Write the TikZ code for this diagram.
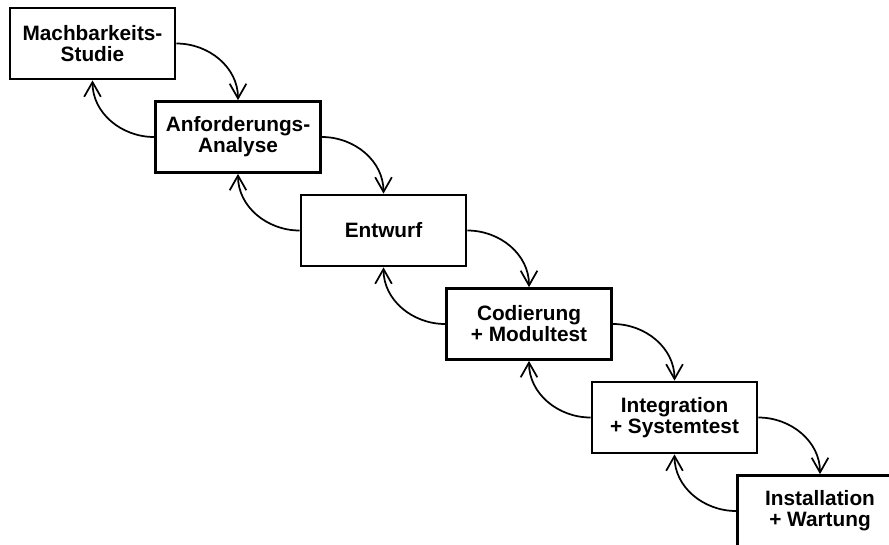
\documentclass[tikz,border=0pt]{standalone}
\usepackage{fontspec}
\setmainfont{Liberation Sans}
\usetikzlibrary{arrows.meta}

\begin{document}
\begin{tikzpicture}[x=0.75pt,y=-0.75pt,
  phase/.style={rectangle,draw,line width=1.8pt,fill=white,align=center,
     minimum width=124pt,minimum height=53.5pt,inner sep=0pt,
     font=\fontsize{15.6pt}{15.75pt}\selectfont\bfseries},
  flow/.style={line width=1.3pt,-{Straight Barb[length=11pt,width=12.5pt]}}]

\useasboundingbox (0,0) rectangle (889,544);

\node[phase] (studie)      at (92.5,43.5)  {Machbarkeits-\\Studie};
\node[phase] (analyse)     at (238,137)    {Anforderungs-\\Analyse};
\node[phase] (entwurf)     at (383.5,230.5) {Entwurf};
\node[phase] (codierung)   at (529,324)    {Codierung\\+ Modultest};
\node[phase] (integration) at (674.5,417.5) {Integration\\+ Systemtest};
\node[phase] (wartung)     at (820,511)    {Installation\\+ Wartung};

% weiter zur naechsten Phase
\draw[flow] (studie.east) to[out=0,in=90] (analyse.north);
\draw[flow] (analyse.east) to[out=0,in=90] (entwurf.north);
\draw[flow] (entwurf.east) to[out=0,in=90] (codierung.north);
\draw[flow] (codierung.east) to[out=0,in=90] (integration.north);
\draw[flow] (integration.east) to[out=0,in=90] (wartung.north);

% zurueck zur vorigen Phase
\draw[flow] (analyse.west) to[out=180,in=-90] (studie.south);
\draw[flow] (entwurf.west) to[out=180,in=-90] (analyse.south);
\draw[flow] (codierung.west) to[out=180,in=-90] (entwurf.south);
\draw[flow] (integration.west) to[out=180,in=-90] (codierung.south);
\draw[flow] (wartung.west) to[out=180,in=-90] (integration.south);
\end{tikzpicture}
\end{document}
